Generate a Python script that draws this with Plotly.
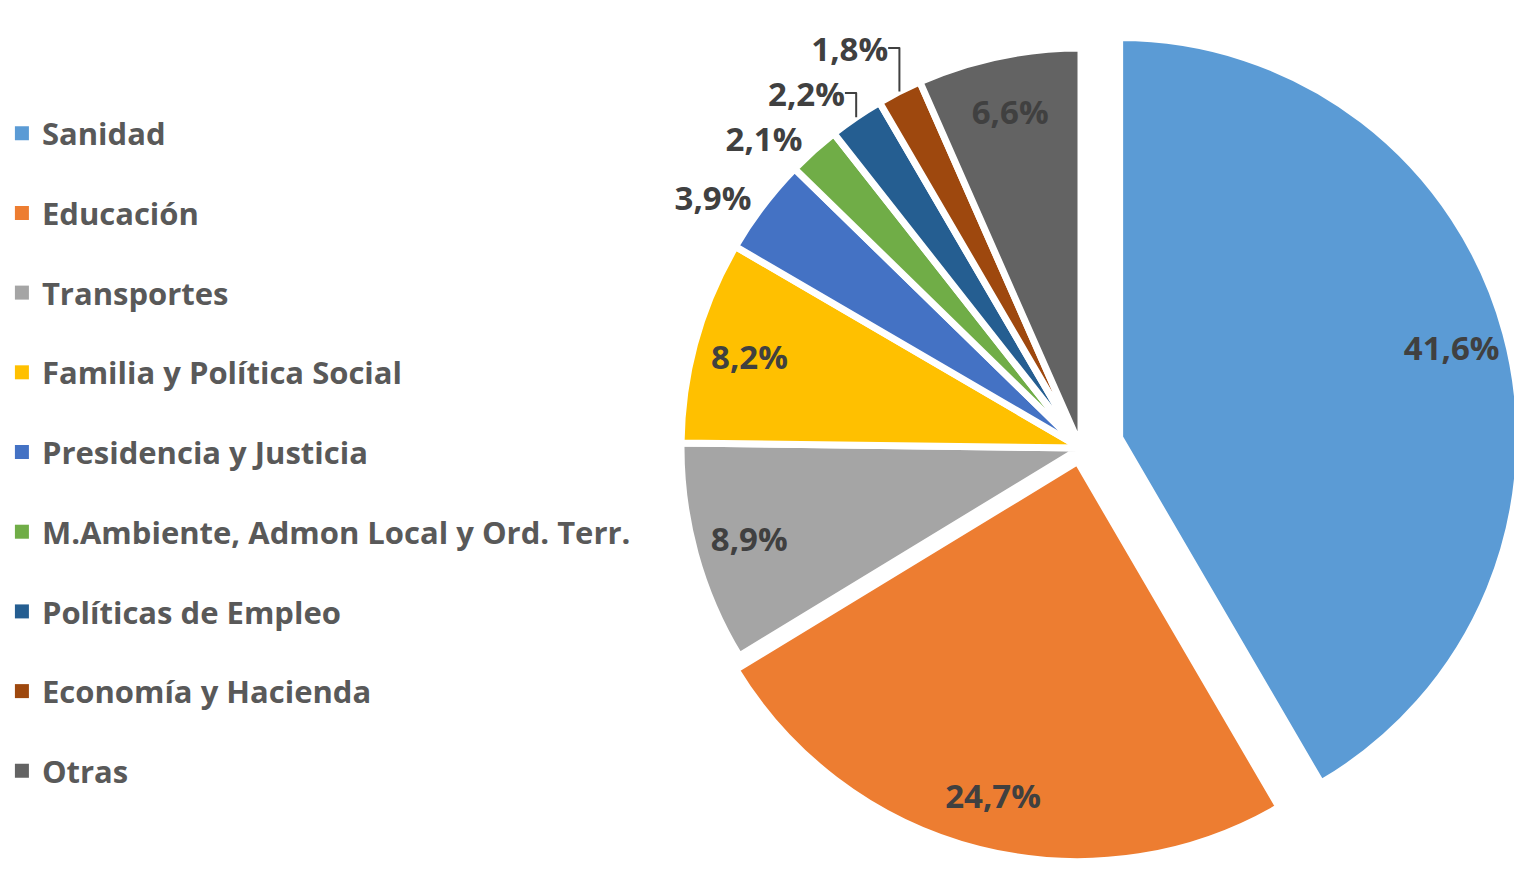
import plotly.graph_objects as go

categories = ["Sanidad", "Educación", "Transportes", "Familia y Política Social",
              "Presidencia y Justicia", "M.Ambiente, Admon Local y Ord. Terr.",
              "Políticas de Empleo", "Economía y Hacienda", "Otras"]
values = [41.6, 24.7, 8.9, 8.2, 3.9, 2.1, 2.2, 1.8, 6.6]
colors = ["#5B9BD5", "#ED7D31", "#A5A5A5", "#FFC000", "#4472C4",
          "#70AD47", "#255E91", "#9E480E", "#636363"]
label_pos = ["inside", "inside", "inside", "inside", "outside",
             "outside", "outside", "outside", "inside"]
pulls = [0.1, 0.035, 0, 0, 0, 0, 0, 0, 0]

labels_txt = [f"{v:.1f}%".replace(".", ",") for v in values]

FONT = "Open Sans"
PIE_DOMAIN = dict(x=[0.41, 1.0], y=[0.0, 1.0])

fig = go.Figure()
# slices
fig.add_trace(go.Pie(
    labels=categories, values=values, textinfo="none",
    sort=False, direction="clockwise", rotation=0,
    pull=pulls, showlegend=False, hoverinfo="label+percent",
    marker=dict(colors=colors, line=dict(color="white", width=7)),
    domain=PIE_DOMAIN,
))
# transparent ring carrying the data labels near the outer edge
fig.add_trace(go.Pie(
    labels=categories, values=values, text=labels_txt, textinfo="text",
    textposition=label_pos, sort=False, direction="clockwise", rotation=0,
    pull=pulls, showlegend=False, hoverinfo="skip", hole=0.72,
    marker=dict(colors=["rgba(0,0,0,0)"] * len(values), line=dict(width=0)),
    insidetextorientation="horizontal",
    textfont=dict(family=FONT, size=33, color="#404040", weight="bold"),
    domain=PIE_DOMAIN,
))

# legend entries
for name, col in zip(categories, colors):
    fig.add_trace(go.Scatter(
        x=[None], y=[None], mode="markers", name=name, legendgroup=name,
        marker=dict(symbol="square", size=14, color=col),
        showlegend=True, hoverinfo="skip",
    ))

fig.update_layout(
    width=1522, height=880,
    margin=dict(l=0, r=0, t=0, b=0, autoexpand=False),
    paper_bgcolor="white", plot_bgcolor="white",
    xaxis=dict(visible=False), yaxis=dict(visible=False),
    legend=dict(x=-0.004, y=0.888, xanchor="left", yanchor="top",
                traceorder="grouped", tracegroupgap=36.4,
                font=dict(family=FONT, size=31, color="#595959", weight="bold"),
                bgcolor="rgba(0,0,0,0)"),
)

fig.write_html("out.html")
